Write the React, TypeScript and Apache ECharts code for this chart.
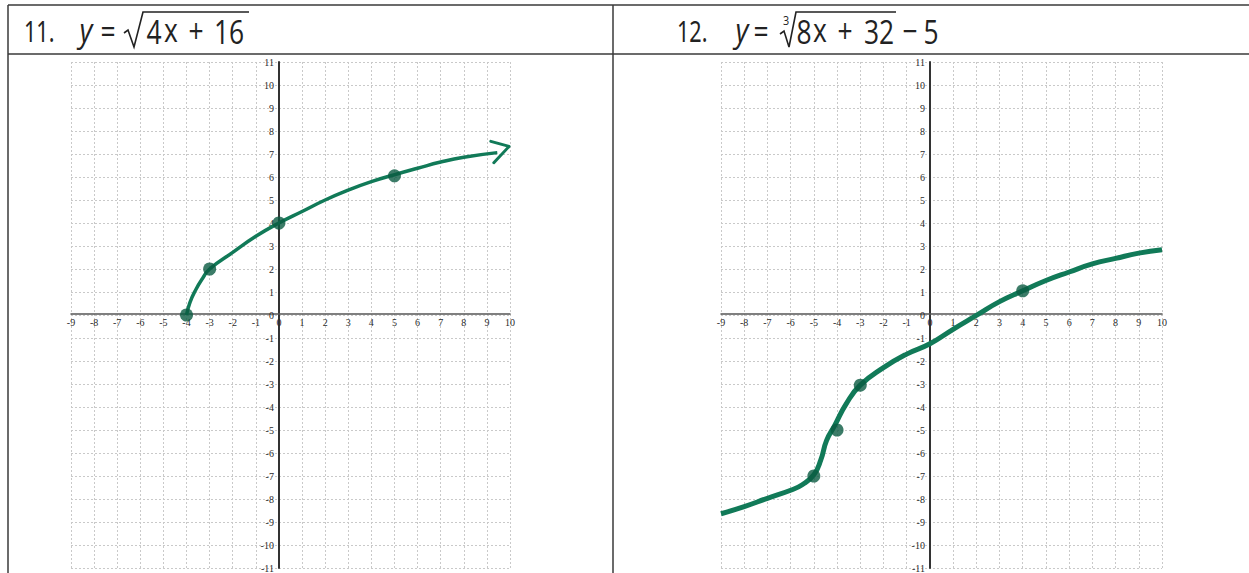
import React, { useEffect, useRef } from "react";
import * as echarts from "echarts";

// ---- data ----
const xTickMin = -9;
const xTickMax = 10;
const yTickMin = -11;
const yTickMax = 11;

const leftTitleNumber = "11.";
const rightTitleNumber = "12.";

// hand-drawn curve of y = sqrt(4x + 16)
const leftCurve: [number, number][] = [
  [-4, 0], [-3.85, 0.55], [-3.6, 1.1], [-3.3, 1.6], [-3, 2], [-2, 2.72],
  [-1, 3.42], [0, 4], [1, 4.5], [2, 5], [3, 5.43], [4, 5.8],
  [5, 6.1], [6, 6.38], [7, 6.65], [8, 6.86], [9.45, 7.06],
];
const leftArrow: [number, number][] = [[9.17, 7.55], [9.96, 7.33], [9.3, 6.62]];
const leftDots: [number, number][] = [[-4, 0], [-3, 2], [0, 4], [5, 6.05]];

// hand-drawn curve of y = cbrt(8x + 32) - 5
const rightCurve: [number, number][] = [
  [-9, -8.64], [-8, -8.33], [-7, -7.97], [-6, -7.62], [-5.5, -7.38],
  [-5, -6.95], [-4.7, -6.3], [-4.45, -5.45], [-4.1, -4.8], [-3.6, -3.85],
  [-3, -3.05], [-2, -2.29], [-1, -1.7], [0, -1.25], [1, -0.62],
  [2, -0.02], [3, 0.58], [4, 1.05], [5, 1.5], [6, 1.87], [7, 2.22], [8, 2.46],
  [9, 2.69], [10, 2.84],
];
const rightDots: [number, number][] = [[-5, -7], [-4, -5], [-3, -3.05], [4, 1.05]];

const GREEN = "#117a58";
const DOT = "#0b5b42";

const GRID_TOP = 62;
const GRID_H = 508;
const LEFT_X = 71;
const LEFT_W = 439;
const RIGHT_X = 721;
const RIGHT_W = 441;

function makeAxes(gridIndex: number, width: number) {
  const labelStyle = {
    color: "#2a2a2a",
    fontFamily: "Liberation Serif",
    fontSize: 10,
  };
  const split = {
    show: true,
    lineStyle: { color: "#c9c9c9", width: 1, type: [2, 2] as any },
  };
  const x = {
    type: "value",
    gridIndex,
    min: xTickMin,
    max: xTickMax,
    interval: 1,
    position: "bottom",
    offset: -(GRID_H * (0 - yTickMin)) / (yTickMax - yTickMin),
    axisLine: { show: true, onZero: false, lineStyle: { color: "#555", width: 1.5 } },
    axisTick: { show: false },
    axisLabel: { ...labelStyle, margin: 3, showMinLabel: true, showMaxLabel: true },
    splitLine: split,
  };
  const y = {
    type: "value",
    gridIndex,
    min: yTickMin,
    max: yTickMax,
    interval: 1,
    position: "left",
    offset: -(width * (0 - xTickMin)) / (xTickMax - xTickMin),
    axisLine: { show: true, onZero: false, lineStyle: { color: "#333", width: 2 } },
    axisTick: { show: false },
    axisLabel: { ...labelStyle, margin: 5, showMinLabel: true, showMaxLabel: true },
    splitLine: split,
  };
  return { x, y };
}

function txt(text: string, cx: number, cy: number, font: string, sx = 0.8) {
  return {
    type: "text",
    x: cx,
    y: cy,
    scaleX: sx,
    style: { text, font, fill: "#222", align: "center", verticalAlign: "middle" },
  };
}

export default function App() {
  const ref = useRef<HTMLDivElement>(null);
  useEffect(() => {
    if (!ref.current) return;
    const chart = echarts.init(ref.current, undefined, { renderer: "svg" });
    const a0 = makeAxes(0, LEFT_W);
    const a1 = makeAxes(1, RIGHT_W);
    const titleFont = `30px "Noto Sans"`;
    const eq = `33px "Open Sans"`;
    const eqI = `italic 33px "Open Sans"`;
    const frame = { stroke: "#3a3a3a", lineWidth: 1.5 };
    const rad = { stroke: "#222", lineWidth: 1.6, fill: null as any };
    chart.setOption({
      animation: false,
      backgroundColor: "#ffffff",
      grid: [
        { left: LEFT_X, top: GRID_TOP, width: LEFT_W, height: GRID_H },
        { left: RIGHT_X, top: GRID_TOP, width: RIGHT_W, height: GRID_H },
      ],
      xAxis: [a0.x, a1.x],
      yAxis: [a0.y, a1.y],
      series: [
        {
          type: "line", xAxisIndex: 0, yAxisIndex: 0, data: leftCurve, smooth: 0.5,
          showSymbol: false, lineStyle: { color: GREEN, width: 3.5 }, z: 5,
        },
        {
          type: "line", xAxisIndex: 0, yAxisIndex: 0, data: leftArrow, smooth: false,
          showSymbol: false, lineStyle: { color: GREEN, width: 3, cap: "round", join: "round" }, z: 5,
        },
        {
          type: "scatter", xAxisIndex: 0, yAxisIndex: 0, data: leftDots, symbolSize: 13,
          itemStyle: { color: DOT }, z: 6,
        },
        {
          type: "line", xAxisIndex: 1, yAxisIndex: 1, data: rightCurve, smooth: 0.5,
          showSymbol: false, lineStyle: { color: GREEN, width: 5 }, z: 5,
        },
        {
          type: "scatter", xAxisIndex: 1, yAxisIndex: 1, data: rightDots, symbolSize: 13,
          itemStyle: { color: DOT }, z: 6,
        },
      ],
      graphic: [
        // frame
        { type: "line", shape: { x1: 8, y1: 5, x2: 1249, y2: 5 }, style: frame },
        { type: "line", shape: { x1: 8, y1: 54, x2: 1249, y2: 54 }, style: frame },
        { type: "line", shape: { x1: 8, y1: 5, x2: 8, y2: 573 }, style: frame },
        { type: "line", shape: { x1: 613, y1: 5, x2: 613, y2: 573 }, style: frame },
        // left title
        { type: "text", x: 24, y: 31, scaleX: 0.72, style: { text: leftTitleNumber, font: titleFont, fill: "#222", verticalAlign: "middle" } },
        txt("y", 86, 29, eqI, 0.85),
        txt("=", 108, 30, eq),
        { type: "polyline", shape: { points: [[124, 33], [128, 30], [134, 47], [143, 12], [249, 12]] }, style: rad },
        txt("4", 154, 31, eq),
        txt("x", 171, 29, eq),
        txt("+", 196, 30, eq),
        txt("16", 229, 31, eq),
        // right title
        { type: "text", x: 677, y: 31, scaleX: 0.72, style: { text: rightTitleNumber, font: titleFont, fill: "#222", verticalAlign: "middle" } },
        txt("y", 742, 29, eqI, 0.85),
        txt("=", 761, 30, eq),
        txt("3", 786, 20, `12px "Open Sans"`, 0.9),
        { type: "polyline", shape: { points: [[780, 34], [784, 31], [789, 47], [796, 12], [896, 12]] }, style: rad },
        txt("8", 804, 31, eq),
        txt("x", 820, 29, eq),
        txt("+", 845, 30, eq),
        txt("32", 879, 31, eq),
        txt("−", 910, 30, eq),
        txt("5", 931, 31, eq),
      ],
    });
    return () => chart.dispose();
  }, []);
  return (
    <div
      ref={ref}
      style={{ position: "absolute", left: 0, top: 0, width: 1249, height: 573 }}
    />
  );
}
